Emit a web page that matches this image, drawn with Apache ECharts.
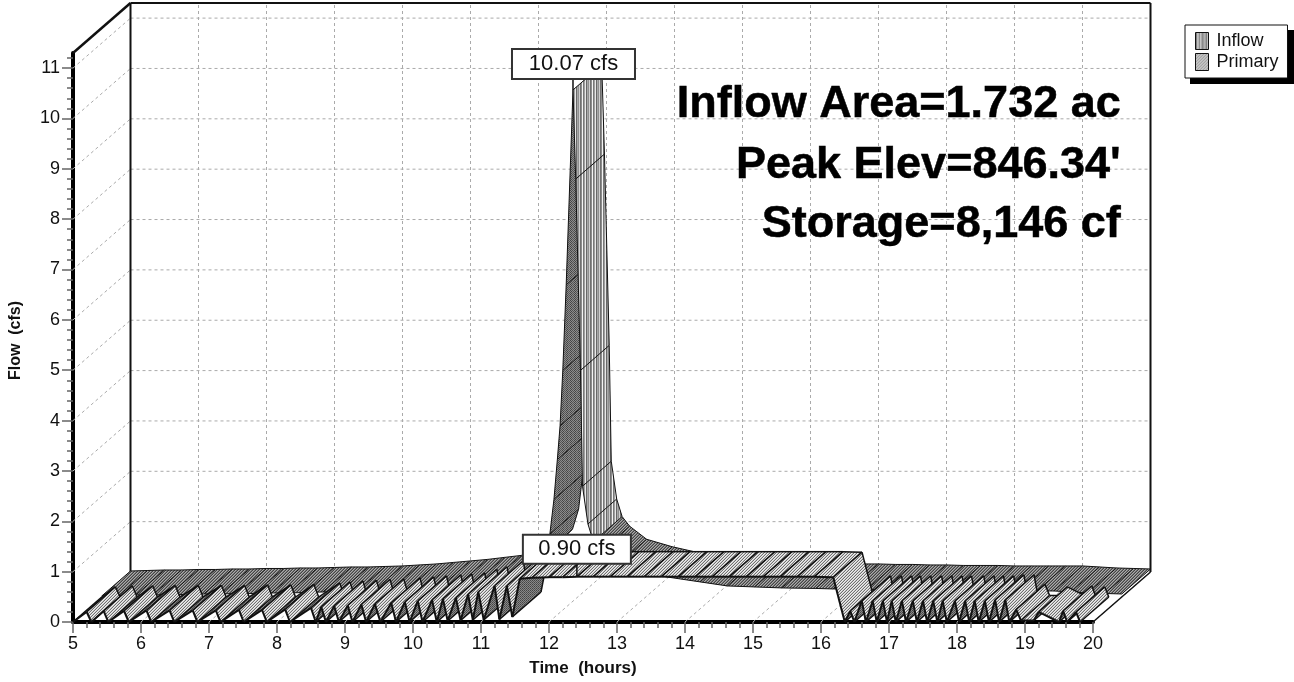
<!DOCTYPE html>
<html>
<head>
<meta charset="utf-8">
<style>
  html, body { margin: 0; padding: 0; background: #fff; }
  #chart { width: 1294px; height: 682px; }
</style>
<script src="https://cdn.jsdelivr.net/npm/echarts@6/dist/echarts.min.js"></script>
</head>
<body>
<div id="chart"></div>
<script>
const timeTicks = [5, 6, 7, 8, 9, 10, 11, 12, 13, 14, 15, 16, 17, 18, 19, 20];
const flowTicks = [0, 1, 2, 3, 4, 5, 6, 7, 8, 9, 10, 11];

const inflowTime = [5, 5.25, 5.5, 5.75, 6, 6.25, 6.5, 6.75, 7, 7.25, 7.5, 7.75, 8, 8.25, 8.5, 8.75, 9, 9.25, 9.5, 9.75, 10, 10.25, 10.5, 10.75, 11, 11.2, 11.35, 11.5, 11.59, 11.65, 11.7, 11.74, 11.78, 11.83, 11.93, 11.97, 12.04, 12.07, 12.15, 12.23, 12.34, 12.59, 12.97, 13.3, 13.8, 14.2, 14.6, 15, 15.5, 15.75, 16, 16.25, 16.5, 16.75, 17, 17.25, 17.5, 17.75, 18, 18.25, 18.5, 18.75, 19, 19.25, 19.5, 19.75, 20];
const inflowFlow = [0.02, 0.03, 0.04, 0.04, 0.05, 0.05, 0.06, 0.06, 0.07, 0.07, 0.08, 0.08, 0.09, 0.1, 0.1, 0.11, 0.12, 0.14, 0.16, 0.19, 0.22, 0.25, 0.29, 0.33, 0.4, 0.5, 0.65, 0.85, 1.25, 1.94, 2.73, 3.4, 4.5, 6.2, 10.07, 8.3, 4.5, 2.2, 1.45, 1.1, 0.91, 0.65, 0.5, 0.4, 0.3, 0.22, 0.2, 0.18, 0.17, 0.16, 0.16, 0.15, 0.15, 0.14, 0.14, 0.13, 0.13, 0.13, 0.12, 0.12, 0.12, 0.12, 0.12, 0.1, 0.08, 0.07, 0.06];

const primaryTime = [5, 5.2, 5.27, 5.45, 5.52, 5.75, 5.82, 6.08, 6.15, 6.42, 6.49, 6.76, 6.83, 7.1, 7.17, 7.44, 7.51, 7.78, 7.85, 8.12, 8.19, 8.5, 8.57, 8.65, 8.72, 8.84, 8.91, 9.04, 9.11, 9.24, 9.31, 9.44, 9.52, 9.68, 9.75, 9.88, 9.95, 10.07, 10.14, 10.28, 10.35, 10.44, 10.51, 10.63, 10.7, 10.81, 10.88, 10.96, 11.04, 11.2, 11.27, 11.38, 11.46, 11.57, 11.75, 12, 12.2, 12.41, 12.65, 12.9, 13.15, 13.4, 13.65, 13.9, 14.15, 14.4, 14.65, 14.9, 15.15, 15.4, 15.65, 15.9, 16.18, 16.35, 16.43, 16.49, 16.6, 16.66, 16.76, 16.82, 16.91, 16.97, 17.04, 17.1, 17.19, 17.25, 17.35, 17.41, 17.5, 17.56, 17.65, 17.71, 17.79, 17.85, 17.97, 18.03, 18.12, 18.18, 18.26, 18.32, 18.41, 18.47, 18.56, 18.62, 18.71, 18.77, 18.87, 18.94, 19.13, 19.2, 19.5, 19.56, 19.62, 19.75, 19.81, 19.94, 20];
const primaryFlow = [0, 0.2, 0, 0.22, 0, 0.22, 0, 0.23, 0, 0.23, 0, 0.23, 0, 0.23, 0, 0.24, 0, 0.24, 0, 0.25, 0, 0.28, 0, 0.3, 0, 0.32, 0, 0.33, 0, 0.35, 0, 0.36, 0, 0.38, 0, 0.4, 0, 0.42, 0, 0.44, 0, 0.46, 0.02, 0.48, 0.03, 0.55, 0.04, 0.6, 0.04, 0.72, 0.05, 0.72, 0.1, 0.86, 0.88, 0.89, 0.89, 0.9, 0.9, 0.9, 0.9, 0.9, 0.9, 0.9, 0.9, 0.9, 0.9, 0.9, 0.9, 0.9, 0.9, 0.9, 0.89, 0, 0.22, 0, 0.42, 0, 0.42, 0, 0.42, 0, 0.42, 0, 0.42, 0, 0.42, 0, 0.42, 0, 0.42, 0, 0.42, 0, 0.42, 0, 0.42, 0, 0.42, 0, 0.42, 0, 0.44, 0, 0.44, 0, 0.25, 0.03, 0.03, 0.2, 0, 0.22, 0, 0.2, 0];

const peakText = ['10.07 cfs', '0.90 cfs'];
const peakTime = [11.93, 12.41];
const peakFlow = [10.07, 0.9];
const noteLines = ['Inflow Area=1.732 ac', "Peak Elev=846.34'", 'Storage=8,146 cf'];

const FONT = '"Liberation Sans", Arial, sans-serif';
const DEPTH_X = 57.5;
const DEPTH_Y = 50;
const yTop = 11.3;

function stripes(rows) {
  const c = document.createElement('canvas');
  c.width = rows[0].length;
  c.height = rows.length;
  const ctx = c.getContext('2d');
  rows.forEach(function (row, y) {
    row.forEach(function (col, x) {
      ctx.fillStyle = col;
      ctx.fillRect(x, y, 1, 1);
    });
  });
  return { image: c, repeat: 'repeat' };
}

const inflowSteep = stripes([['#707070', '#8c8c8c', '#f4f4f4', '#787878', '#a0a0a0', '#e8e8e8', '#686868', '#a8a8a8', '#909090', '#d0d0d0']]);
const inflowFlat = stripes([['#444', '#aaa', '#777'], ['#aaa', '#777', '#444'], ['#777', '#444', '#aaa']]);
const inflowUnder = stripes([['#555', '#8c8c8c', '#444', '#8c8c8c'], ['#8c8c8c', '#555', '#8c8c8c', '#444']]);
const primaryTop = stripes([['#eee', '#c8c8c8', '#707070'], ['#c8c8c8', '#707070', '#eee'], ['#707070', '#eee', '#c8c8c8']]);
const primaryUnder = stripes([['#444', '#888'], ['#888', '#555']]);

function place(api, t, f, depth) {
  const p = api.coord([t, f]);
  return [p[0] + depth * DEPTH_X, p[1] - depth * DEPTH_Y];
}

function segments(times, flows) {
  return times.slice(1).map(function (t, i) {
    return [times[i], flows[i], t, flows[i + 1]];
  });
}

function edge(p, q, w) {
  return {
    type: 'line',
    shape: { x1: p[0], y1: p[1], x2: q[0], y2: q[1] },
    style: { stroke: '#111', lineWidth: w }
  };
}

function ribbon(near, far, steep, flat, under, frontWidth, ribWidth, backWidth) {
  return function (params, api) {
    const t0 = api.value(0), f0 = api.value(1), t1 = api.value(2), f1 = api.value(3);
    const a = place(api, t0, f0, near), b = place(api, t1, f1, near);
    const c = place(api, t1, f1, far), d = place(api, t0, f0, far);
    const dx = b[0] - a[0], dy = b[1] - a[1];
    // climbs show the underside of the ribbon, drops show its top
    let fill = flat;
    if (dy < -0.5 * dx) fill = under;
    else if (dy > 2 * dx) fill = steep;
    const kids = [
      { type: 'polygon', shape: { points: [a, b, c, d] }, style: { fill: fill } },
      edge(a, d, ribWidth),
      edge(a, b, frontWidth),
      edge(d, c, backWidth)
    ];
    if (params.dataIndex === params.dataInsideLength - 1) kids.push(edge(b, c, ribWidth));
    return { type: 'group', children: kids };
  };
}

function gridLine(p, q) {
  return {
    type: 'line',
    shape: { x1: p[0], y1: p[1], x2: q[0], y2: q[1] },
    style: { stroke: '#aaa', lineWidth: 1, lineDash: [3, 3] }
  };
}

function wallGrid(params, api) {
  const kids = [];
  const left = timeTicks[0], right = timeTicks[timeTicks.length - 1];
  flowTicks.forEach(function (f) {
    if (f > 0) {
      kids.push(gridLine(place(api, left, f, 1), place(api, right, f, 1)));
      kids.push(gridLine(place(api, left, f, 0), place(api, left, f, 1)));
    }
  });
  timeTicks.forEach(function (t) {
    kids.push(gridLine(place(api, t, 0, 1), place(api, t, yTop, 1)));
    kids.push(gridLine(place(api, t, 0, 0), place(api, t, 0, 1)));
  });
  kids.push(edge(place(api, left, yTop, 0), place(api, left, yTop, 1), 2.5));
  kids.push(edge(place(api, left, yTop, 1), place(api, right, yTop, 1), 2));
  kids.push(edge(place(api, left, 0, 1), place(api, left, yTop, 1), 2));
  kids.push(edge(place(api, right, 0, 1), place(api, right, yTop, 1), 2));
  kids.push(edge(place(api, right, 0, 0), place(api, right, 0, 1), 1.5));
  return { type: 'group', children: kids };
}

function peakBox(params, api) {
  const i = params.dataIndex;
  const p = place(api, api.value(0), api.value(1), i === 0 ? 0.5 : 0);
  const boxX = i === 0 ? p[0] - 61 : p[0] - 54;
  const boxW = i === 0 ? 123 : 108;
  const boxH = i === 0 ? 30 : 29;
  const boxY = i === 0 ? p[1] - 41 : p[1] - 42;
  return {
    type: 'group',
    children: [
      edge([p[0], boxY + boxH], p, 1.5),
      {
        type: 'rect',
        shape: { x: boxX, y: boxY, width: boxW, height: boxH },
        style: { fill: '#fff', stroke: '#333', lineWidth: 2 }
      },
      {
        type: 'text',
        x: boxX + boxW / 2,
        y: boxY + boxH / 2,
        style: {
          text: peakText[i],
          fill: '#111',
          font: '22px ' + FONT,
          align: 'center',
          verticalAlign: 'middle'
        }
      }
    ]
  };
}

const dom = document.getElementById('chart');
const chart = echarts.init(dom, null, { renderer: 'canvas' });

chart.setOption({
  animation: false,
  backgroundColor: '#fff',
  grid: { left: 73, right: 201, top: 53, bottom: 59 },
  xAxis: {
    type: 'value',
    min: 5,
    max: 20,
    interval: 1,
    name: 'Time  (hours)',
    nameLocation: 'middle',
    nameGap: 38,
    nameTextStyle: { fontFamily: FONT, fontWeight: 'bold', fontSize: 17, color: '#111' },
    axisLine: { onZero: false, lineStyle: { color: '#000', width: 4 } },
    axisTick: { length: 11, lineStyle: { color: '#666', width: 1.5 } },
    minorTick: { show: true, splitNumber: 5, length: 6, lineStyle: { color: '#666', width: 1.5 } },
    axisLabel: { fontFamily: FONT, fontSize: 18, color: '#111', margin: 13 },
    splitLine: { show: false }
  },
  yAxis: {
    type: 'value',
    min: 0,
    max: yTop,
    interval: 1,
    name: 'Flow  (cfs)',
    nameLocation: 'middle',
    nameGap: 49,
    nameTextStyle: { fontFamily: FONT, fontWeight: 'bold', fontSize: 16, color: '#111', padding: [0, 6, 0, 0] },
    axisLine: { onZero: false, lineStyle: { color: '#000', width: 4 } },
    axisTick: { length: 11, customValues: flowTicks, lineStyle: { color: '#666', width: 1.5 } },
    minorTick: { show: true, splitNumber: 5, length: 6, lineStyle: { color: '#666', width: 1.5 } },
    axisLabel: { fontFamily: FONT, fontSize: 18, color: '#111', margin: 13, customValues: flowTicks },
    splitLine: { show: false }
  },
  legend: {
    data: [
      { name: 'Inflow', itemStyle: { color: inflowSteep, borderColor: '#111', borderWidth: 1 } },
      { name: 'Primary', itemStyle: { color: primaryTop, borderColor: '#111', borderWidth: 1 } }
    ],
    orient: 'vertical',
    left: 1185,
    top: 25,
    z: 10,
    padding: [7, 9, 7, 10],
    itemWidth: 13,
    itemHeight: 17,
    itemGap: 3,
    icon: 'rect',
    selectedMode: false,
    backgroundColor: '#fff',
    borderColor: '#111',
    borderWidth: 1,
    textStyle: { fontFamily: FONT, fontSize: 18, color: '#111', padding: [0, 0, 0, 3] }
  },
  graphic: [
    {
      type: 'rect',
      left: 1190,
      top: 30,
      z: 0,
      shape: { width: 104, height: 54 },
      style: { fill: '#000' }
    }
  ].concat(noteLines.map(function (line, i) {
    return {
      type: 'text',
      right: 1294 - 1121,
      top: [82, 143, 202][i],
      z: 20,
      style: { text: line, font: 'bold 45px ' + FONT, fill: '#000', stroke: '#000', lineWidth: 0.5 }
    };
  })),
  series: [
    {
      type: 'custom',
      silent: true,
      clip: false,
      z: 1,
      data: [[5, 0]],
      renderItem: wallGrid
    },
    {
      name: 'Inflow',
      type: 'custom',
      silent: true,
      clip: false,
      z: 2,
      encode: { x: [0, 2], y: [1, 3] },
      data: segments(inflowTime, inflowFlow),
      renderItem: ribbon(0.5, 1, inflowSteep, inflowFlat, inflowUnder, 1, 1, 1)
    },
    {
      name: 'Primary',
      type: 'custom',
      silent: true,
      clip: false,
      z: 3,
      encode: { x: [0, 2], y: [1, 3] },
      data: segments(primaryTime, primaryFlow),
      renderItem: ribbon(0, 0.5, primaryTop, primaryTop, primaryUnder, 2, 1.5, 1.5)
    },
    {
      type: 'custom',
      silent: true,
      clip: false,
      z: 4,
      data: peakTime.map(function (t, i) { return [t, peakFlow[i]]; }),
      renderItem: peakBox
    }
  ]
});

window.addEventListener('resize', function () {
  chart.resize();
});
</script>
</body>
</html>
